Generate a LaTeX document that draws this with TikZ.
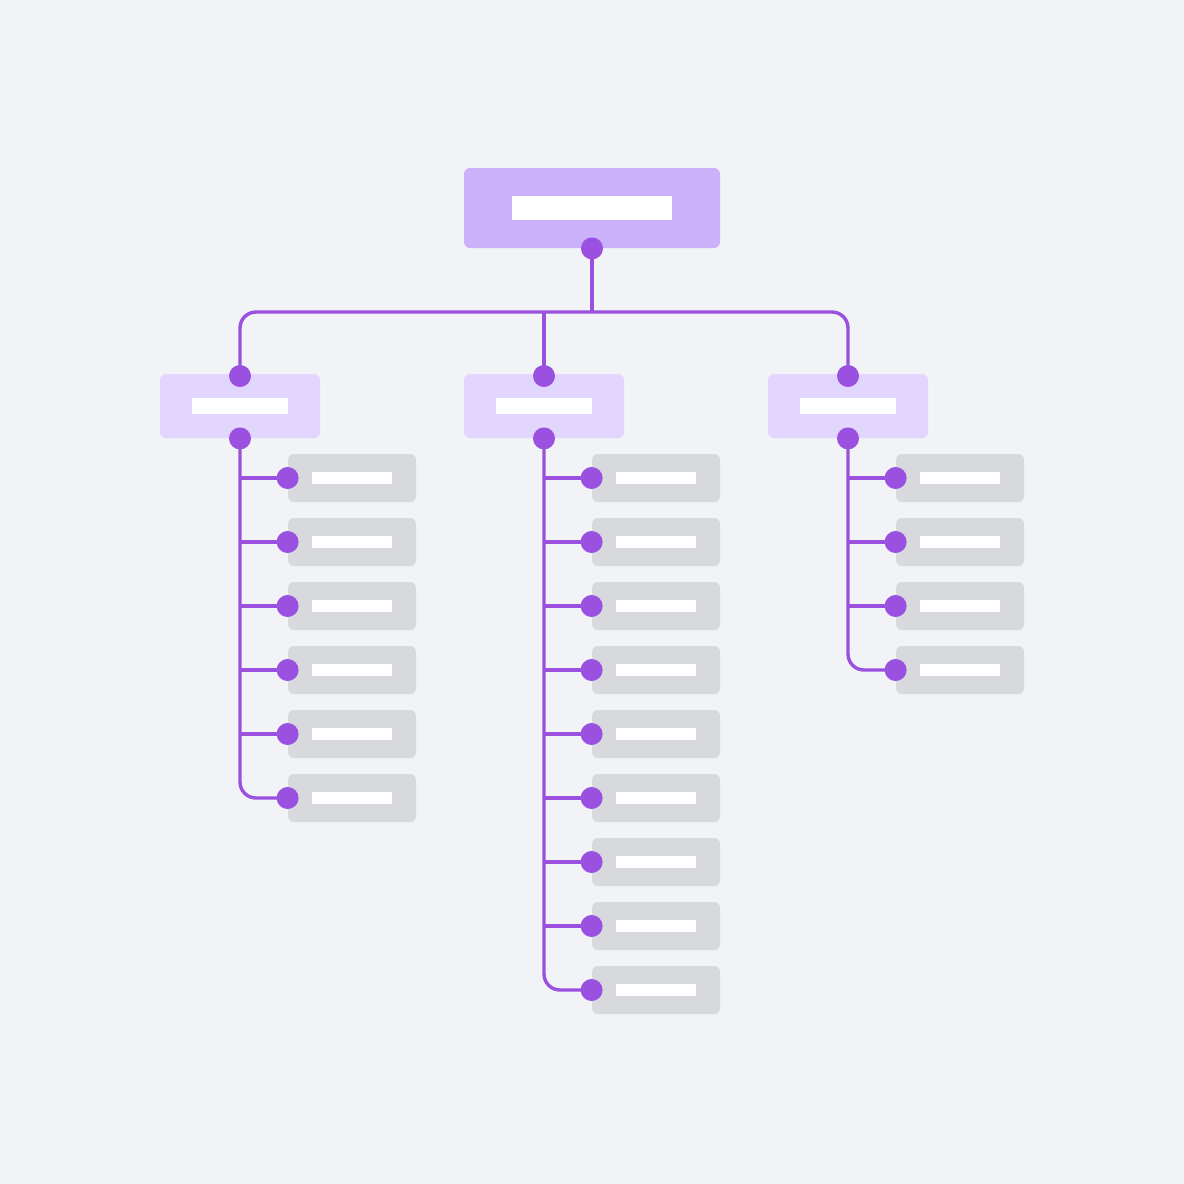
\documentclass[tikz,border=0pt]{standalone}
\usetikzlibrary{calc}
\definecolor{bg}{HTML}{F2F3F7}
\definecolor{topc}{HTML}{CBB0FA}
\definecolor{midc}{HTML}{E2D6FE}
\definecolor{leafc}{HTML}{D7D9DD}
\definecolor{pur}{HTML}{9B51E0}
\tikzset{
  topbox/.style={fill=topc, rounded corners=3pt, minimum width=128pt, minimum height=40pt, inner sep=0pt},
  midbox/.style={fill=midc, rounded corners=3pt, minimum width=80pt, minimum height=32pt, inner sep=0pt},
  leafbox/.style={fill=leafc, rounded corners=3pt, minimum width=64pt, minimum height=24pt, inner sep=0pt},
  topbar/.style={fill=white, minimum width=80pt, minimum height=12pt, inner sep=0pt},
  midbar/.style={fill=white, minimum width=48pt, minimum height=8pt, inner sep=0pt},
  leafbar/.style={fill=white, minimum width=40pt, minimum height=6pt, inner sep=0pt},
  dot/.style={circle, fill=pur, minimum size=11pt, inner sep=0pt},
  conn/.style={draw=pur, line width=1.7pt},
}
\begin{document}
\begin{tikzpicture}[x=0.5pt,y=-0.5pt]
\fill[bg] (0,0) rectangle (1184,1184);
\useasboundingbox (0,0) rectangle (1184,1184);
% boxes
\node[topbox] (top) at (592,208) {};
\node[topbar] (topt) at (top.center) {};
\node[midbox] (m1) at (240,406) {};
\node[midbox] (m2) at (544,406) {};
\node[midbox] (m3) at (848,406) {};
\foreach \i in {1,2,3} {\node[midbar] (m\i t) at (m\i.center) {};}
\coordinate (bus) at (592,312);
\coordinate (m1top) at (240,376);
\coordinate (m2top) at (544,376);
\coordinate (m3top) at (848,376);
\foreach \k in {1,...,6} {\node[leafbox] (a\k) at (352,{478+64*(\k-1)}) {}; \node[leafbar] at (a\k.center) {};}
\foreach \k in {1,...,9} {\node[leafbox] (b\k) at (656,{478+64*(\k-1)}) {}; \node[leafbar] at (b\k.center) {};}
\foreach \k in {1,...,4} {\node[leafbox] (c\k) at (960,{478+64*(\k-1)}) {}; \node[leafbar] at (c\k.center) {};}
% connectors
\draw[conn] (top.south) -- (bus);
\draw[conn, rounded corners=8pt] (m1top) -- (m1top |- bus) -- (m3top |- bus) -- (m3top);
\draw[conn] (m2top |- bus) -- (m2top);
\draw[conn, rounded corners=8pt] (m1.south) -- (m1.south |- a6.west) -- (a6.west);
\foreach \k in {1,...,5} {\draw[conn] (m1.south |- a\k.west) -- (a\k.west);}
\draw[conn, rounded corners=8pt] (m2.south) -- (m2.south |- b9.west) -- (b9.west);
\foreach \k in {1,...,8} {\draw[conn] (m2.south |- b\k.west) -- (b\k.west);}
\draw[conn, rounded corners=8pt] (m3.south) -- (m3.south |- c4.west) -- (c4.west);
\foreach \k in {1,...,3} {\draw[conn] (m3.south |- c\k.west) -- (c\k.west);}
% dots
\node[dot] at (top.south) {};
\foreach \i in {1,2,3} {\node[dot] at (m\i top) {}; \node[dot] at (m\i.south) {};}
\foreach \k in {1,...,6} {\node[dot] at (a\k.west) {};}
\foreach \k in {1,...,9} {\node[dot] at (b\k.west) {};}
\foreach \k in {1,...,4} {\node[dot] at (c\k.west) {};}
\end{tikzpicture}
\end{document}
